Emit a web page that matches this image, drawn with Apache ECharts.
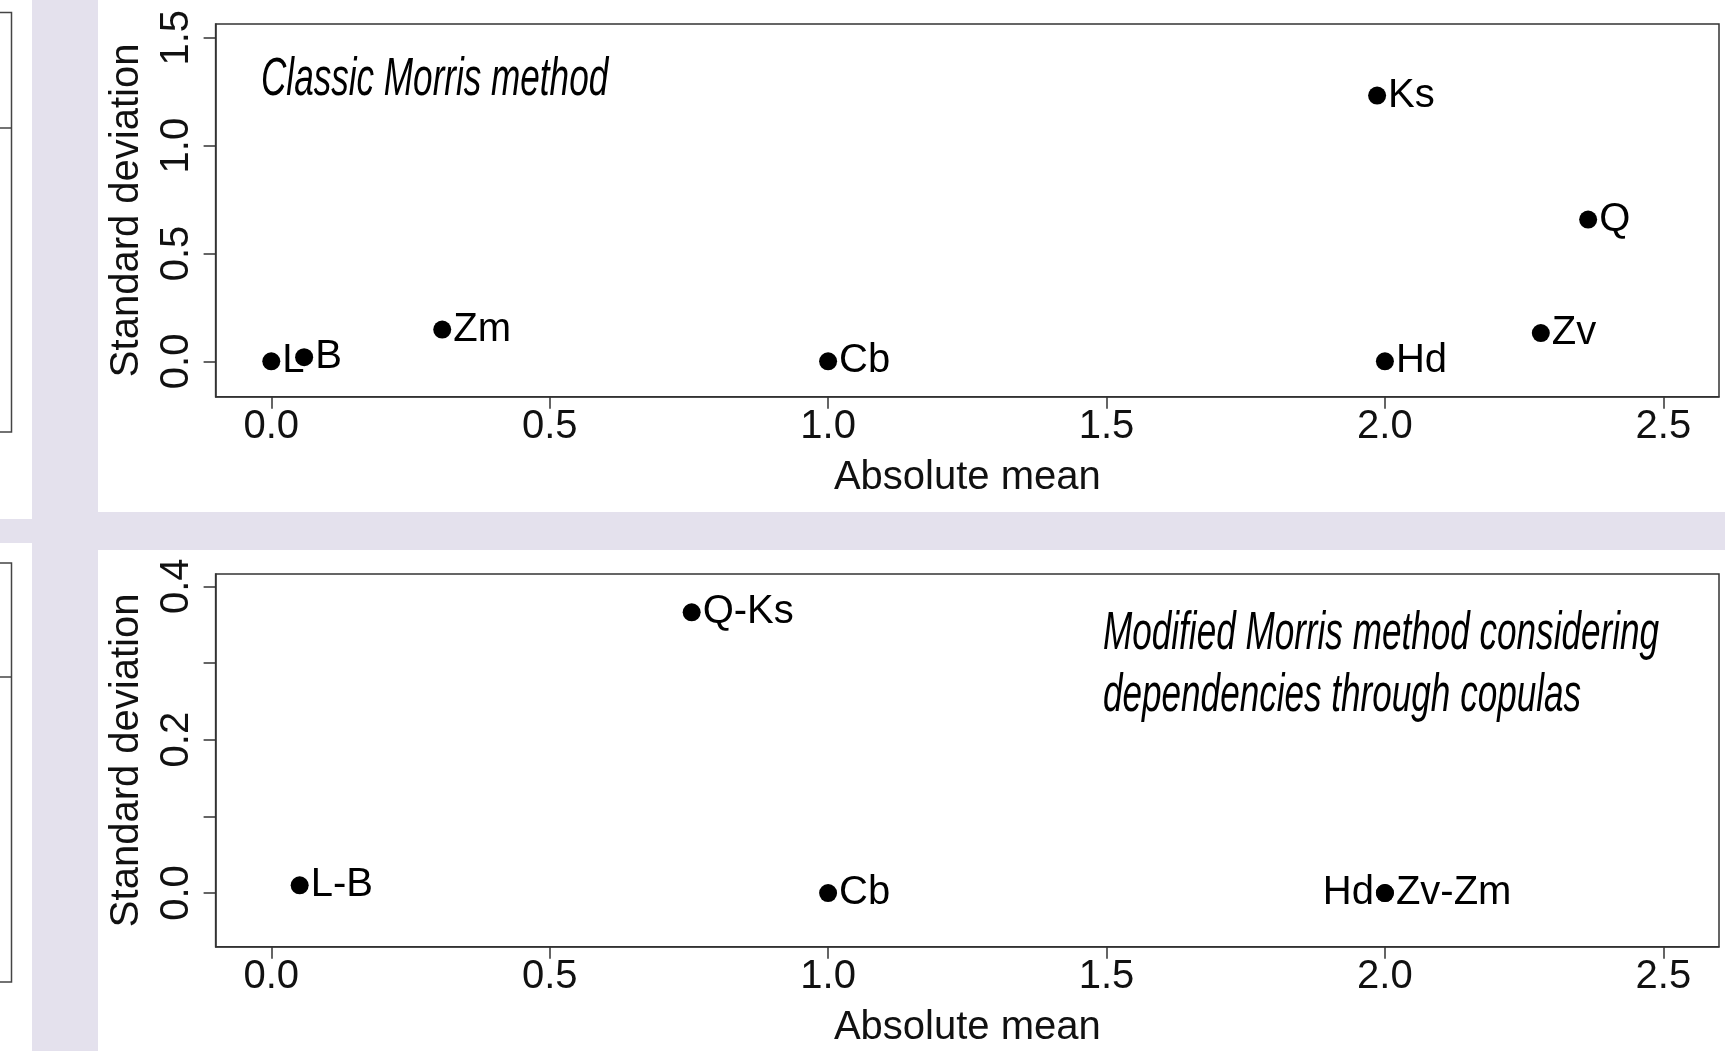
<!DOCTYPE html>
<html>
<head>
<meta charset="utf-8">
<script src="https://cdn.jsdelivr.net/npm/echarts@6/dist/echarts.min.js"></script>
<style>
  html, body { margin: 0; padding: 0; background: #e4e1ed; }
  #chart { width: 1725px; height: 1051px; }
</style>
</head>
<body>
<div id="chart"></div>
<script>
// ---- Data ----
const topNames = ['L', 'B', 'Zm', 'Cb', 'Ks', 'Q', 'Zv', 'Hd'];
const topMean  = [0.0, 0.059, 0.307, 1.0, 1.986, 2.365, 2.280, 2.0];
const topSd    = [0.0, 0.019, 0.147, 0.0, 1.232, 0.657, 0.131, 0.0];

const bottomNames = ['L-B', 'Q-Ks', 'Cb', 'Hd', 'Zv-Zm'];
const bottomMean  = [0.051, 0.755, 1.0, 2.0, 2.0];
const bottomSd    = [0.010, 0.366, 0.0, 0.0, 0.0];

const xTicks = [0, 0.5, 1.0, 1.5, 2.0, 2.5];
const topYTicks = [0, 0.5, 1.0, 1.5];
const bottomYTicks = [0, 0.1, 0.2, 0.3, 0.4];
const bottomYLabels = [0, 0.2, 0.4];

const xTitle = 'Absolute mean';
const yTitle = 'Standard deviation';
const topNote = 'Classic Morris method';
const bottomNote = ['Modified Morris method considering', 'dependencies through copulas'];
const bottomLeftLabelled = ['Hd'];

// ---- Styling ----
const FONT = '"Liberation Sans", Arial, sans-serif';
const AXIS_COLOR = '#333';
const FS = 40;
const fmt = v => Number(v).toFixed(1);

function makeX(gridIndex) {
  return {
    type: 'value', gridIndex: gridIndex, min: -0.1, max: 2.6,
    axisLine: { show: true, onZero: false, lineStyle: { color: AXIS_COLOR, width: 1.5 } },
    axisTick: { show: true, customValues: xTicks, length: 12, lineStyle: { color: AXIS_COLOR, width: 1.5 } },
    axisLabel: { customValues: xTicks, formatter: fmt, fontSize: FS, color: '#111', fontFamily: FONT, margin: 10 },
    splitLine: { show: false },
    name: xTitle, nameLocation: 'middle', nameGap: 61,
    nameTextStyle: { fontSize: FS, color: '#111', fontFamily: FONT }
  };
}
function makeY(gridIndex, min, max, ticks, labels) {
  return {
    type: 'value', gridIndex: gridIndex, min: min, max: max,
    axisLine: { show: true, onZero: false, lineStyle: { color: AXIS_COLOR, width: 1.5 } },
    axisTick: { show: true, customValues: ticks, length: 12, lineStyle: { color: AXIS_COLOR, width: 1.5 } },
    axisLabel: { customValues: labels, formatter: fmt, rotate: 90, fontSize: FS, color: '#111', fontFamily: FONT, margin: 19 },
    splitLine: { show: false },
    name: yTitle, nameLocation: 'middle', nameGap: 69, nameRotate: 90,
    nameTextStyle: { fontSize: FS, color: '#111', fontFamily: FONT }
  };
}
function makeData(names, means, sds, leftList) {
  return names.map((n, i) => ({
    name: n,
    value: [means[i], sds[i]],
    label: { position: leftList.indexOf(n) >= 0 ? 'left' : 'right' }
  }));
}
function makeSeries(idx, data) {
  return {
    type: 'scatter', xAxisIndex: idx, yAxisIndex: idx,
    symbol: 'circle', symbolSize: 18,
    itemStyle: { color: '#000', opacity: 1 },
    label: { show: true, formatter: p => p.name, fontSize: FS, color: '#000', opacity: 1, fontFamily: FONT, distance: 2 },
    emphasis: { disabled: true },
    data: data
  };
}

const noteFont = 'italic 54px ' + FONT;
const chart = echarts.init(document.getElementById('chart'), null, { renderer: 'canvas' });
chart.setOption({
  backgroundColor: '#e4e1ed',
  animation: false,
  grid: [
    { left: 215.6, right: 6, top: 24, height: 372.7, show: true, borderColor: AXIS_COLOR, borderWidth: 1.5, backgroundColor: '#fff', containLabel: false },
    { left: 215.6, right: 6, top: 574, height: 372.7, show: true, borderColor: AXIS_COLOR, borderWidth: 1.5, backgroundColor: '#fff', containLabel: false }
  ],
  xAxis: [makeX(0), makeX(1)],
  yAxis: [
    makeY(0, -0.164, 1.564, topYTicks, topYTicks),
    makeY(1, -0.07, 0.416, bottomYTicks, bottomYLabels)
  ],
  series: [
    makeSeries(0, makeData(topNames, topMean, topSd, [])),
    makeSeries(1, makeData(bottomNames, bottomMean, bottomSd, bottomLeftLabelled))
  ],
  graphic: [
    { type: 'rect', z: -10, shape: { x: 98, y: 0, width: 1627, height: 512 }, style: { fill: '#fff' } },
    { type: 'rect', z: -10, shape: { x: 98, y: 550, width: 1627, height: 501 }, style: { fill: '#fff' } },
    { type: 'rect', z: -10, shape: { x: 0, y: 0, width: 32, height: 519 }, style: { fill: '#fff' } },
    { type: 'rect', z: -10, shape: { x: 0, y: 543, width: 32, height: 508 }, style: { fill: '#fff' } },
    { type: 'polyline', z: -5, shape: { points: [[0, 12.5], [11.5, 12.5], [11.5, 432], [0, 432]] }, style: { stroke: '#444', lineWidth: 1.5, fill: null } },
    { type: 'line', z: -5, shape: { x1: 0, y1: 128, x2: 11.5, y2: 128 }, style: { stroke: '#444', lineWidth: 1.5 } },
    { type: 'polyline', z: -5, shape: { points: [[0, 563], [11.5, 563], [11.5, 982], [0, 982]] }, style: { stroke: '#444', lineWidth: 1.5, fill: null } },
    { type: 'line', z: -5, shape: { x1: 0, y1: 677, x2: 11.5, y2: 677 }, style: { stroke: '#444', lineWidth: 1.5 } },
    { type: 'text', z: 100, x: 261, y: 80, scaleX: 0.65,
      style: { text: topNote, font: noteFont, fill: '#000', verticalAlign: 'middle', align: 'left' } },
    { type: 'text', z: 100, x: 1103, y: 634, scaleX: 0.65,
      style: { text: bottomNote[0], font: noteFont, fill: '#000', verticalAlign: 'middle', align: 'left' } },
    { type: 'text', z: 100, x: 1103, y: 696, scaleX: 0.65,
      style: { text: bottomNote[1], font: noteFont, fill: '#000', verticalAlign: 'middle', align: 'left' } }
  ]
});
</script>
</body>
</html>
